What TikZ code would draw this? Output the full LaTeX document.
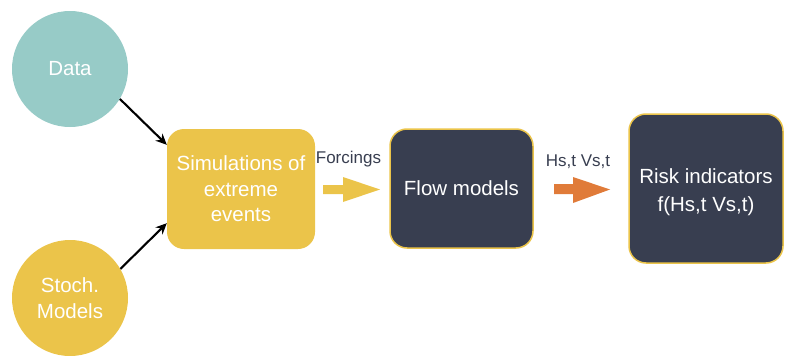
\documentclass[tikz,border=0pt]{standalone}
\usepackage{fontspec}
\setmainfont{Liberation Sans}
\usetikzlibrary{arrows.meta,calc}
\definecolor{teal}{HTML}{97CBC7}
\definecolor{gold}{HTML}{EBC44A}
\definecolor{slate}{HTML}{383E50}
\definecolor{rust}{HTML}{E07B39}
\tikzset{
  bubble/.style={circle,fill=#1,minimum size=116pt,inner sep=0pt,text=white,
    align=center,font=\fontsize{20.5}{26}\selectfont},
  block/.style={rounded corners=17pt,fill=#1,inner sep=0pt,text=white,
    align=center,font=\fontsize{20.5}{25.5}\selectfont},
  rimmed/.style={draw=gold,line width=1.5pt},
  feed/.style={line width=2.1pt,-{Stealth[length=11pt,width=10pt]}},
  tag/.style={text=slate,font=\fontsize{17}{20}\selectfont,inner sep=0pt},
}
\begin{document}
\begin{tikzpicture}[x=1pt,y=-1pt]
\useasboundingbox (0,0) rectangle (785,356);

% inputs
\node[bubble=teal] (data) at (70,69) {Data};
\node[bubble=gold] (stoch) at (70,298) {Stoch.\\Models};

% processing chain
\node[block=gold,minimum width=148pt,minimum height=120pt] (sim) at (241,189)
  {Simulations of\\extreme\\events};
\node[block=slate,rimmed,minimum width=143pt,minimum height=119pt] (flow) at (461.5,188.5)
  {Flow models};
\node[block=slate,rimmed,minimum width=154pt,minimum height=149pt] (risk) at (706,188.5) {};
\node[text=white,align=center,font=\fontsize{20.5}{28}\selectfont,inner sep=0pt]
  (risktext) at ($(risk.center)+(0,4)$) {Risk indicators\\f(Hs,t Vs,t)};

% feeds into the simulation box
\coordinate (simin1) at ($(sim.north west)+(0,16)$);
\coordinate (simin2) at ($(sim.south west)+(0,-26)$);
\draw[feed] (data.-31) -- (simin1);
\draw[feed] (stoch.30) -- (simin2);

% block arrows between the stages
\node[tag,anchor=base] (forc) at (348.5,163) {Forcings};
\fill[gold] (323,185) -- (343,185) -- (343,177) -- (380,189.5) -- (343,202)
  -- (343,194) -- (323,194) -- cycle;
\node[tag,anchor=base] (hv) at (578,166) {Hs,t Vs,t};
\fill[rust] (554,184) -- (573,184) -- (573,177) -- (610,189.5) -- (573,203)
  -- (573,194) -- (554,194) -- cycle;
\end{tikzpicture}
\end{document}
